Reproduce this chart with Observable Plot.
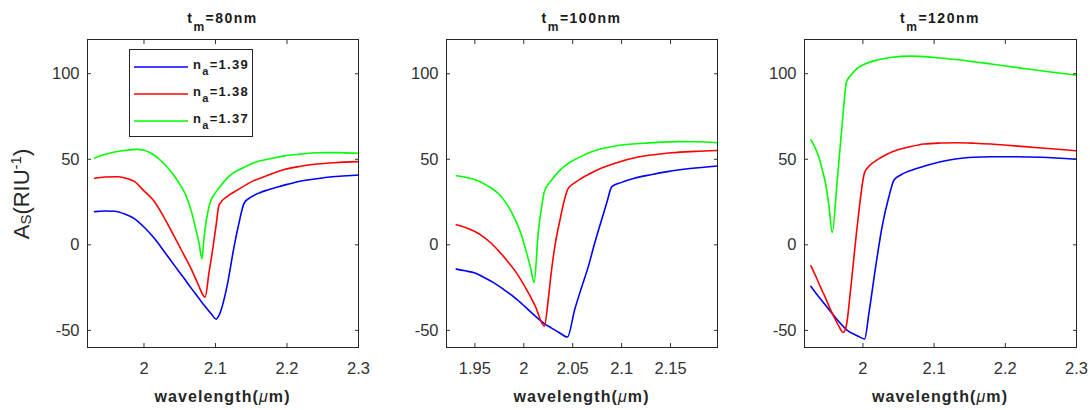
<!DOCTYPE html>
<html>
<head>
<meta charset="utf-8">
<script src="https://cdn.jsdelivr.net/npm/d3@7"></script>
<script src="https://cdn.jsdelivr.net/npm/@observablehq/plot@0.6"></script>
<style>
  body { margin: 0; background: #fff; }
  #chart { position: relative; width: 1090px; height: 410px; overflow: hidden;
           font-family: "Liberation Sans", Arial, sans-serif; color: #262626; background: #fff; }
  .panel { position: absolute; top: 0; }
  .title { position: absolute; font-weight: bold; font-size: 14px; line-height: 14px;
           white-space: nowrap; transform: translateX(-50%); letter-spacing: 1.5px; color: #1a1a1a; }
  .xlab { position: absolute; font-weight: bold; font-size: 16px; line-height: 16px;
          white-space: nowrap; transform: translateX(-50%); letter-spacing: 1.1px; color: #262626; }
  .ylab { position: absolute; font-size: 22px; line-height: 22px; white-space: nowrap;
          transform: translate(-50%, -50%) rotate(-90deg); color: #262626; }
  .legend { position: absolute; border: 1px solid #262626; background: #fff; box-sizing: border-box; }
  .lsvg { position: absolute; left: 0; top: 0; }
  .ltext { position: absolute; font-weight: bold; font-size: 13px; line-height: 13px;
           white-space: nowrap; letter-spacing: 1.3px; color: #1a1a1a; }
  .sub { position: relative; }
</style>
</head>
<body>
<div id="chart"></div>
<script>
// ---------------- data ----------------
const seriesNames = ["1.39", "1.38", "1.37"];
const seriesColors = ["#0000ff", "#ff0000", "#00ff00"];
const panelTitles = ["80nm", "100nm", "120nm"];
const yTicks = [-50, 0, 50, 100];
const yDomain = [-60, 120];
const xTicks80 = [2, 2.1, 2.2, 2.3];
const xTicks100 = [1.95, 2, 2.05, 2.1, 2.15];
const xTicks120 = [2, 2.1, 2.2, 2.3];
const xDomain80 = [1.921, 2.3];
const xDomain100 = [1.921, 2.198];
const xDomain120 = [1.918, 2.3];

// t_m = 80 nm  ([wavelength um, A_S])
const tm80_n139 = [[1.931,19.4],[1.945,19.8],[1.959,19.6],[1.973,18],[1.987,15.2],[2.001,10],[2.015,3.5],[2.029,-4.3],[2.043,-12.3],[2.055,-19],[2.066,-25.3],[2.076,-30.8],[2.085,-35.8],[2.094,-40.3],[2.101,-43.4],[2.104,-42],[2.108,-37.9],[2.117,-22.4],[2.126,-1],[2.133,13],[2.140,24.3],[2.150,28],[2.162,30.5],[2.173,32.1],[2.194,34.6],[2.215,36.9],[2.236,38.3],[2.257,39.5],[2.278,40.2],[2.3,40.8]];
const tm80_n138 = [[1.931,38.9],[1.945,39.6],[1.964,39.8],[1.976,38.8],[1.987,36.9],[2.000,31.5],[2.0125,26.3],[2.024,19],[2.035,10.7],[2.046,2],[2.056,-6],[2.066,-14],[2.075,-22.4],[2.0855,-30.6],[2.091,-16],[2.096,-2.9],[2.101,12],[2.105,23.3],[2.117,28.5],[2.131,32.1],[2.15,36.8],[2.173,40.6],[2.196,44],[2.219,45.9],[2.242,47.2],[2.266,48],[2.3,48.6]];
const tm80_n137 = [[1.931,50.8],[1.945,52.8],[1.959,54.2],[1.975,55.3],[1.99,55.8],[2.0,55.3],[2.01,53.5],[2.02,50.5],[2.03,46.5],[2.04,41.5],[2.05,35.5],[2.058,29.5],[2.066,20],[2.072,10],[2.077,1],[2.081,-8.2],[2.084,4],[2.086,11],[2.089,18.5],[2.092,24],[2.1,30.5],[2.108,35],[2.12,40.5],[2.136,44.5],[2.154,48],[2.173,50],[2.196,52],[2.219,53],[2.243,53.8],[2.27,53.9],[2.3,53.5]];

// t_m = 100 nm
const tm100_n139 = [[1.931,-14.2],[1.94,-15.2],[1.950,-16.5],[1.96,-19.2],[1.970,-22.4],[1.98,-26.3],[1.991,-31],[2.001,-36],[2.0115,-41.5],[2.021,-46],[2.028,-48.5],[2.036,-51.2],[2.0446,-53.9],[2.052,-37.9],[2.059,-25],[2.066,-12.6],[2.072,0],[2.079,13.6],[2.085,25],[2.090,34],[2.1,36.5],[2.113,38.9],[2.13,41],[2.147,42.8],[2.17,44.6],[2.198,46.1]];
const tm100_n138 = [[1.931,11.7],[1.941,10],[1.950,7.8],[1.958,5],[1.967,0.8],[1.975,-4],[1.984,-10],[1.993,-16.8],[2.001,-24.3],[2.0115,-35.5],[2.021,-47.5],[2.025,-32],[2.028,-16.5],[2.032,0],[2.037,14.6],[2.041,25],[2.045,32.5],[2.052,36.2],[2.059,38.9],[2.069,42],[2.079,44.7],[2.095,48],[2.117,51.3],[2.135,52.8],[2.151,53.8],[2.175,54.6],[2.198,55.1]];
const tm100_n137 = [[1.931,40.4],[1.943,39.2],[1.953,37.5],[1.964,34.2],[1.974,30],[1.983,23.5],[1.991,15],[1.998,5],[2.003,-5],[2.007,-13.5],[2.0106,-22],[2.0147,6.8],[2.019,25],[2.021,31.1],[2.028,37.5],[2.035,42.5],[2.045,47.5],[2.0555,50.8],[2.07,54.5],[2.089,57.3],[2.105,58.6],[2.123,59.4],[2.14,60],[2.157,60.3],[2.175,60.2],[2.198,59.7]];

// t_m = 120 nm
const tm120_n139 = [[1.927,-24.3],[1.936,-29.3],[1.945,-34],[1.955,-39.2],[1.964,-43.8],[1.978,-50],[1.992,-53.1],[2.0024,-55],[2.0085,-39.9],[2.018,-12.6],[2.027,10.7],[2.0366,28.2],[2.0437,37.9],[2.053,40.8],[2.0766,44.7],[2.109,48.6],[2.13,50.2],[2.156,51.2],[2.18,51.5],[2.203,51.5],[2.25,51.2],[2.2996,50]];
const tm120_n138 = [[1.927,-12.3],[1.934,-18.5],[1.940,-24.3],[1.9475,-31],[1.9545,-37.9],[1.964,-45.7],[1.9724,-51.2],[1.977,-46.7],[1.9827,-26.3],[1.992,10.7],[2.0024,42.2],[2.01,46.5],[2.020,49.6],[2.033,52.8],[2.048,55.4],[2.066,57.3],[2.086,58.9],[2.11,59.5],[2.133,59.7],[2.157,59.4],[2.180,58.9],[2.203,58.2],[2.227,57.4],[2.26,56.3],[2.2996,55]];
const tm120_n137 = [[1.927,61.3],[1.932,57.5],[1.938,51.5],[1.9435,43],[1.9475,36],[1.952,24],[1.957,7.2],[1.964,37.9],[1.971,71],[1.977,95.3],[1.984,99.5],[1.992,103.1],[2.003,105.7],[2.0155,107.5],[2.039,109.5],[2.067,110.3],[2.1,109.5],[2.13,108.3],[2.156,107],[2.18,105.7],[2.203,104.4],[2.227,103],[2.25,101.7],[2.275,100.4],[2.2996,99.2]];

// ---------------- layout ----------------
const panels = [
  {title: panelTitles[0], series: [tm80_n139, tm80_n138, tm80_n137], xDomain: xDomain80, xTicks: xTicks80,
   left: 0, width: 370, marginLeft: 87, marginRight: 12},
  {title: panelTitles[1], series: [tm100_n139, tm100_n138, tm100_n137], xDomain: xDomain100, xTicks: xTicks100,
   left: 370, width: 360, marginLeft: 76, marginRight: 13},
  {title: panelTitles[2], series: [tm120_n139, tm120_n138, tm120_n137], xDomain: xDomain120, xTicks: xTicks120,
   left: 730, width: 360, marginLeft: 74, marginRight: 14}
];

const chart = document.getElementById("chart");
const axisColor = "#333";

panels.forEach((p, pi) => {
  const lines = p.series.map((pts, si) =>
    Plot.line(pts, {x: d => d[0], y: d => d[1], stroke: seriesColors[si], strokeWidth: 1.6, curve: "monotone-x"}));
  const svg = Plot.plot({
    width: p.width,
    height: 410,
    marginLeft: p.marginLeft,
    marginRight: p.marginRight,
    marginTop: 39,
    marginBottom: 63,
    x: {domain: p.xDomain},
    y: {domain: yDomain},
    style: {fontFamily: "'Liberation Sans', Arial, sans-serif", fontSize: "16.5px", color: axisColor, background: "transparent", overflow: "visible"},
    marks: [
      ...lines,
      Plot.axisX({ticks: p.xTicks, anchor: "bottom", tickSize: -4, tickPadding: 18.7, tickFormat: d => String(d), label: null}),
      Plot.axisX({ticks: p.xTicks, anchor: "top", tickSize: -4, tickFormat: () => "", label: null}),
      Plot.axisY({ticks: yTicks, anchor: "left", tickSize: -4, tickPadding: 12, tickFormat: d => String(d), label: null}),
      Plot.axisY({ticks: yTicks, anchor: "right", tickSize: -4, tickFormat: () => "", label: null}),
      Plot.frame({stroke: "#262626", strokeWidth: 1})
    ]
  });
  svg.classList.add("panel");
  svg.style.left = p.left + "px";
  chart.appendChild(svg);

  const cx = p.left + p.marginLeft + (p.width - p.marginLeft - p.marginRight) / 2;

  const t = document.createElement("div");
  t.className = "title";
  t.style.left = cx + "px";
  t.style.top = "10.6px";
  t.innerHTML = 't<span class="sub" style="font-size:12px;top:8px">m</span>=' + p.title;
  chart.appendChild(t);

  const xl = document.createElement("div");
  xl.className = "xlab";
  xl.style.left = cx + "px";
  xl.style.top = "388.5px";
  xl.innerHTML = 'wavelength(<span style="font-style:italic;font-weight:normal">μ</span>m)';
  chart.appendChild(xl);
});

// y label (first panel only)
const yl = document.createElement("div");
yl.className = "ylab";
yl.style.left = "23.4px";
yl.style.top = "194px";
yl.innerHTML = 'A<span class="sub" style="font-size:15px;top:2px">S</span>(RIU<span class="sub" style="font-size:15px;top:-8px">-1</span>)';
chart.appendChild(yl);

// legend (inside first panel)
const legend = document.createElement("div");
legend.className = "legend";
legend.style.left = "129px";
legend.style.top = "49px";
legend.style.width = "124px";
legend.style.height = "88px";
chart.appendChild(legend);
const NS = "http://www.w3.org/2000/svg";
const lsvg = document.createElementNS(NS, "svg");
lsvg.setAttribute("class", "lsvg");
lsvg.setAttribute("width", "122");
lsvg.setAttribute("height", "86");
legend.appendChild(lsvg);
seriesNames.forEach((name, i) => {
  const rowY = 17 + i * 27;
  const ln = document.createElementNS(NS, "line");
  ln.setAttribute("x1", "4");
  ln.setAttribute("x2", "58");
  ln.setAttribute("y1", rowY);
  ln.setAttribute("y2", rowY);
  ln.setAttribute("stroke", seriesColors[i]);
  ln.setAttribute("stroke-width", "1.6");
  lsvg.appendChild(ln);
  const tx = document.createElement("div");
  tx.className = "ltext";
  tx.style.left = "63px";
  tx.style.top = (rowY + 1.6 - 11) + "px";
  tx.innerHTML = 'n<span class="sub" style="font-size:11px;top:6px">a</span>=' + name;
  legend.appendChild(tx);
});
</script>
</body>
</html>
